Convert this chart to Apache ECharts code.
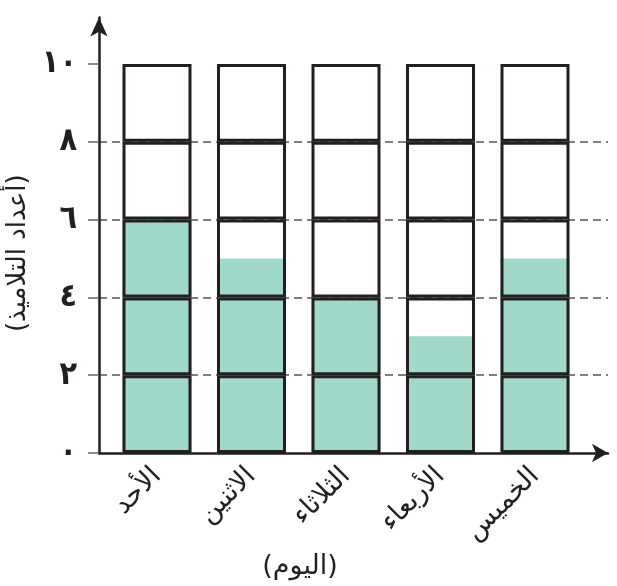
<!DOCTYPE html>
<html>
<head>
<meta charset="utf-8">
<script src="https://cdn.jsdelivr.net/npm/echarts@6/dist/echarts.min.js"></script>
<style>
  html, body { margin: 0; padding: 0; background: #fff; }
  #chart { width: 617px; height: 586px; }
</style>
</head>
<body>
<div id="chart"></div>
<script>
// 每天的学生人数（柱状图）
const days = ['الأحد', 'الاثنين', 'الثلاثاء', 'الأربعاء', 'الخميس']
const pupils = [6, 5, 4, 3, 5]
// 外框：每格 2 个单位，共 5 格（到 10）
const cellSize = [2, 2, 2, 2, 2]
const yTicks = [0, 2, 4, 6, 8, 10]

const yMax = 11.195 // 箭头延伸到 10 以上
const font = 'DejaVu Sans'
const ink = '#231f20'

// 阿拉伯-印度数字
const toArabic = v => String(v).replace(/\d/g, d => '٠١٢٣٤٥٦٧٨٩'[d])

const chart = echarts.init(document.getElementById('chart'))

// 外框分格的 5 个堆叠系列
const boxSeries = cellSize.map(size => ({
  type: 'bar',
  stack: 'box',
  xAxisIndex: 0,
  yAxisIndex: 0,
  barWidth: 69,
  barGap: '-100%',
  z: 3,
  silent: true,
  data: days.map(() => size),
  itemStyle: { color: 'rgba(0,0,0,0)', borderColor: ink, borderWidth: 3 },
}))

const option = {
  animation: false,
  backgroundColor: '#fff',
  grid: [
    // 柱子
    { left: 109.75, right: 34.75, top: 17.5, bottom: 133, outerBoundsMode: 'none', containLabel: false },
    // 坐标轴和网格线
    { left: 99, right: 9, top: 17.5, bottom: 133, outerBoundsMode: 'none', containLabel: false },
  ],
  xAxis: [
    {
      type: 'category',
      gridIndex: 0,
      data: days,
      axisLine: { show: false },
      axisTick: { show: false },
      axisLabel: {
        rotate: 45,
        margin: 19,
        color: ink,
        fontSize: 27,
        fontFamily: font,
      },
      name: '(اليوم)',
      nameLocation: 'middle',
      nameGap: 100,
      nameTextStyle: {
        color: ink,
        fontSize: 27,
        fontFamily: font,
        padding: [0, 92, 0, 0],
      },
    },
    {
      type: 'value',
      gridIndex: 1,
      min: 0,
      max: 1,
      axisLabel: { show: false },
      axisTick: { show: false },
      splitLine: { show: false },
      axisLine: {
        symbol: ['none', 'arrow'],
        symbolSize: [14, 16],
        lineStyle: { color: ink, width: 2.5 },
      },
    },
  ],
  yAxis: [
    {
      type: 'value',
      gridIndex: 0,
      min: 0,
      max: yMax,
      show: false,
    },
    {
      type: 'value',
      gridIndex: 1,
      min: 0,
      max: yMax,
      interval: 2,
      axisLine: {
        show: true,
        symbol: ['none', 'arrow'],
        symbolSize: [13, 19],
        lineStyle: { color: ink, width: 2.5 },
      },
      axisTick: {
        show: true,
        length: 11,
        customValues: yTicks,
        lineStyle: { color: '#666', width: 1.5 },
      },
      axisLabel: {
        customValues: yTicks,
        margin: 22,
        color: ink,
        fontSize: 32,
        fontWeight: 'bold',
        fontFamily: 'DejaVu Sans Condensed, DejaVu Sans',
        formatter: v => toArabic(v),
      },
      splitLine: {
        show: true,
        showMinLine: false,
        showMaxLine: false,
        lineStyle: { color: '#555', width: 1.5, type: [8, 5] },
      },
      name: '(أعداد التلاميذ)',
      nameLocation: 'middle',
      nameGap: 62,
      nameRotate: 90,
      nameTextStyle: {
        color: ink,
        fontSize: 26,
        fontFamily: font,
        padding: [0, 36, 0, 0],
      },
    },
  ],
  series: [
    {
      type: 'bar',
      stack: 'fill',
      xAxisIndex: 0,
      yAxisIndex: 0,
      barWidth: 69,
      barGap: '-100%',
      z: 2,
      data: pupils,
      itemStyle: { color: '#a0d8ca' },
    },
    ...boxSeries,
  ],
}

chart.setOption(option)
</script>
</body>
</html>
